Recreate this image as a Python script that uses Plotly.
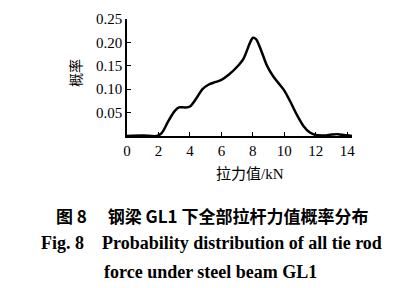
import plotly.graph_objects as go

force_kn = [0.0, 1.0, 1.9, 2.2, 2.6, 3.0, 3.3, 3.7, 4.0, 4.4, 4.8, 5.2, 5.6, 6.0, 6.5, 7.0, 7.4, 7.8, 8.0, 8.2, 8.5, 8.9, 9.3, 9.7, 10.0, 10.4, 10.8, 11.2, 11.6, 12.0, 12.5, 13.0, 13.4, 13.8, 14.3]
probability = [0.0, 0.001, 0.0, 0.006, 0.03, 0.052, 0.061, 0.061, 0.063, 0.08, 0.1, 0.11, 0.115, 0.12, 0.132, 0.148, 0.165, 0.198, 0.21, 0.207, 0.185, 0.15, 0.127, 0.11, 0.097, 0.072, 0.045, 0.022, 0.008, 0.002, 0.001, 0.003, 0.004, 0.002, 0.0]

x_ticks = [0, 2, 4, 6, 8, 10, 12, 14]
y_ticks = [0.05, 0.10, 0.15, 0.20, 0.25]
y_tick_text = ["0.05", "0.10", "0.15", "0.20", "0.25"]

serif = "Liberation Serif, Times New Roman, serif"
cjk = "Noto Sans CJK SC"

L, T, W, H = 127, 19, 225, 117


def px(xp, yp):
    return (xp - L) / W, (T + H - yp) / H


fig = go.Figure()
fig.add_trace(go.Scatter(
    x=force_kn, y=probability, mode="lines",
    line=dict(color="black", width=2.5, shape="spline", smoothing=0.8),
    hoverinfo="skip", showlegend=False,
))


def ann(text, xp, yp, font, angle=0):
    x, y = px(xp, yp)
    return dict(text=text, x=x, y=y, xref="paper", yref="paper", xanchor="center", yanchor="middle",
                textangle=angle, showarrow=False, font=font)


fig.update_layout(
    width=403, height=288,
    margin=dict(l=L, r=403 - L - W, t=T, b=288 - T - H),
    paper_bgcolor="white", plot_bgcolor="white",
    xaxis=dict(
        range=[0, 14.3], tickvals=x_ticks, ticks="inside", ticklen=4,
        showline=True, linecolor="black", linewidth=1.5, showgrid=False, zeroline=False,
        tickfont=dict(family=serif, size=15, color="black"), tickcolor="black",
    ),
    yaxis=dict(
        range=[0, 0.25], tickvals=y_ticks, ticktext=y_tick_text, ticks="inside", ticklen=4,
        showline=True, linecolor="black", linewidth=1.5, showgrid=False, zeroline=False,
        tickfont=dict(family=serif, size=15, color="black"), tickcolor="black",
    ),
    annotations=[
        ann("概率", 75, 73, dict(family=cjk, size=14, color="black"), -90),
        ann("拉力值<span style='font-family:Liberation Serif'>/kN</span>", 250, 172,
            dict(family=cjk, size=15, color="black")),
        ann("<b>图 8　 钢梁 GL1 下全部拉杆力值概率分布</b>", 212, 215, dict(family=cjk, size=17, color="black")),
        ann("<b>Fig. 8　Probability distribution of all tie rod</b>", 211, 243, dict(family=serif, size=18, color="black")),
        ann("<b>force under steel beam GL1</b>", 210, 272, dict(family=serif, size=18, color="black")),
    ],
)

fig.write_html("out.html")
